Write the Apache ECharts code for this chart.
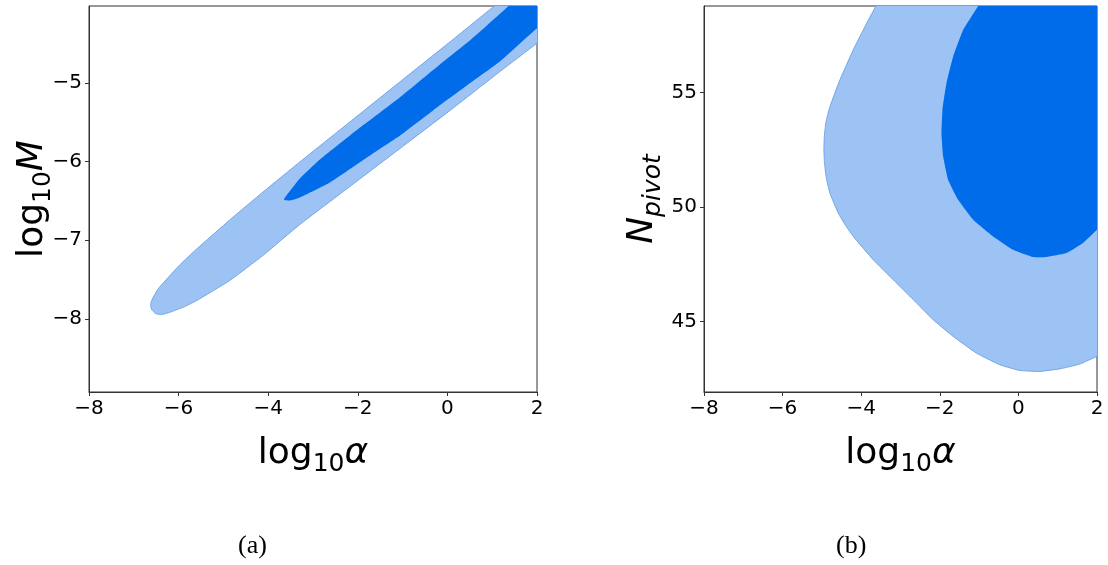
<!DOCTYPE html>
<html>
<head>
<meta charset="utf-8">
<script src="https://cdn.jsdelivr.net/npm/echarts@6/dist/echarts.min.js"></script>
<style>
html,body{margin:0;padding:0;background:#fff;}
#c{width:1108px;height:565px;}
</style>
</head>
<body>
<div id="c"></div>
<script>
// ---------- data ----------
// x axis ticks (both panels)
const xTicks = [-8, -6, -4, -2, 0, 2];
// panel (a): log10 M vs log10 alpha
const yTicksA = [-8, -7, -6, -5];
const yRangeA = [-8.93, -4.02];
// 2-sigma (outer) contour, panel (a)
const outerA = [
  [-6.625, -7.830], [-6.602, -7.767], [-6.535, -7.691], [-6.468, -7.627], [-6.356, -7.551],
  [-5.976, -7.315], [-5.596, -7.110], [-4.858, -6.741], [-4.120, -6.388], [-3.293, -6.003],
  [-2.175, -5.494], [-1.057, -4.984], [0.061, -4.475], [1.040, -4.023], [1.50, -3.80],
  [2.5, -3.80], [2.5, -4.28], [2.0, -4.494], [1.179, -4.851], [0.061, -5.348],
  [-1.057, -5.832], [-2.175, -6.315], [-3.293, -6.799], [-4.120, -7.194], [-4.858, -7.512],
  [-5.596, -7.767], [-5.864, -7.844], [-6.155, -7.908], [-6.379, -7.946], [-6.513, -7.933],
  [-6.602, -7.882]
];
// 1-sigma (inner) contour, panel (a)
const innerA = [
  [-3.651, -6.481], [-3.561, -6.404], [-3.293, -6.213], [-2.846, -5.971], [-2.175, -5.666],
  [-1.057, -5.182], [-0.162, -4.762], [0.508, -4.456], [1.358, -4.023], [1.70, -3.80],
  [2.5, -3.80], [2.5, -4.10], [2.0, -4.303], [1.179, -4.723], [0.441, -5.029],
  [-0.319, -5.348], [-1.057, -5.666], [-1.795, -5.946], [-2.622, -6.264], [-3.293, -6.455],
  [-3.517, -6.494], [-3.620, -6.492]
];
// panel (b): N_pivot vs log10 alpha
const yTicksB = [45, 50, 55];
const yRangeB = [41.92, 58.79];
const outerB = [
  [-3.50, 59.3], [-3.627, 58.79], [-3.864, 58.03], [-4.203, 56.87], [-4.542, 55.56], [-4.796, 54.39],
  [-4.900, 53.70], [-4.940, 53.05], [-4.949, 52.50], [-4.935, 51.95], [-4.890, 51.30],
  [-4.796, 50.61], [-4.584, 49.74], [-4.380, 49.15], [-4.203, 48.72], [-3.694, 47.70],
  [-3.186, 46.83], [-2.677, 45.96], [-2.169, 45.08], [-1.660, 44.35], [-1.067, 43.62],
  [-0.474, 43.11], [0.035, 42.86], [0.543, 42.82], [1.052, 42.93], [1.560, 43.14],
  [2.0, 43.48], [2.5, 43.9], [2.5, 59.3]
];
const innerB = [
  [-0.90, 59.3], [-1.025, 58.79], [-1.406, 57.74], [-1.660, 56.58], [-1.830, 55.41], [-1.932, 54.25],
  [-1.957, 53.23], [-1.914, 52.21], [-1.787, 51.19], [-1.533, 50.32], [-1.152, 49.45],
  [-0.643, 48.72], [-0.135, 48.14], [0.374, 47.82], [0.713, 47.82], [1.222, 47.99],
  [1.645, 48.43], [2.0, 49.01], [2.5, 49.8], [2.5, 59.3]
];

// ---------- styles ----------
const LIGHT = '#9cc3f4';
const LIGHT_EDGE = '#6a9fe4';
const DARK = '#006cea';
const AXIS = '#333333';
const TICK_FONT = "'DejaVu Sans', sans-serif";
const MATH_FONT = "'DejaVu Sans', sans-serif";

function minus(v) { return String(v).replace('-', '\u2212'); }

function polySeries(xi, pts, fill, stroke, z) {
  return {
    type: 'custom', xAxisIndex: xi, yAxisIndex: xi, clip: true, z: z,
    silent: true,
    data: [pts[0]],
    renderItem: function (params, api) {
      return {
        type: 'polygon',
        shape: { points: pts.map(function (p) { return api.coord(p); }), smooth: 0.12 },
        style: { fill: fill, stroke: stroke, lineWidth: stroke ? 0.9 : 0 }
      };
    }
  };
}

const richMath = {
  r: { fontSize: 36, fontFamily: MATH_FONT, color: '#000', lineHeight: 36, verticalAlign: 'top' },
  s: { fontSize: 25, fontFamily: MATH_FONT, color: '#000', lineHeight: 25, verticalAlign: 'top', padding: [16, 0, 0, 0] },
  i: { fontSize: 36, fontFamily: MATH_FONT, fontStyle: 'italic', color: '#000', lineHeight: 36, verticalAlign: 'top' },
  si: { fontSize: 25, fontFamily: MATH_FONT, fontStyle: 'italic', color: '#000', lineHeight: 25, verticalAlign: 'top', padding: [16, 0, 0, 0] }
};

function xAxisDef(gi) {
  return {
    type: 'value', gridIndex: gi, min: xTicks[0], max: xTicks[xTicks.length - 1], interval: 2,
    name: '{r|log}{s|10}{i|α}', nameLocation: 'middle', nameGap: 44,
    nameTextStyle: { rich: richMath },
    axisLine: { show: true, onZero: false, lineStyle: { color: AXIS, width: 1 } },
    axisTick: { show: true, inside: false, length: 4, lineStyle: { color: AXIS } },
    axisLabel: { margin: 7, fontSize: 20, fontFamily: TICK_FONT, color: '#000', formatter: minus },
    splitLine: { show: false }
  };
}
function yAxisDef(gi, range, ticks, name, gap) {
  return {
    type: 'value', gridIndex: gi, min: range[0], max: range[1],
    name: name, nameLocation: 'middle', nameGap: gap, nameRotate: 90, nameMoveOverlap: false,
    nameTextStyle: { rich: richMath },
    axisLine: { show: true, onZero: false, lineStyle: { color: AXIS, width: 1 } },
    axisTick: { show: true, inside: false, length: 4, lineStyle: { color: AXIS }, customValues: ticks },
    axisLabel: { margin: 7, fontSize: 20, fontFamily: TICK_FONT, color: '#000', formatter: minus, customValues: ticks },
    splitLine: { show: false }
  };
}

const chart = echarts.init(document.getElementById('c'), null, { renderer: 'canvas' });
chart.setOption({
  animation: false,
  backgroundColor: '#fff',
  grid: [
    { left: 89, right: 571, top: 6, bottom: 173, show: true, borderColor: AXIS, borderWidth: 1, backgroundColor: 'transparent' },
    { left: 704, right: 11, top: 6, bottom: 173, show: true, borderColor: AXIS, borderWidth: 1, backgroundColor: 'transparent' }
  ],
  xAxis: [xAxisDef(0), xAxisDef(1)],
  yAxis: [
    yAxisDef(0, yRangeA, yTicksA, '{r|log}{s|10}{i|M}', 38),
    yAxisDef(1, yRangeB, yTicksB, '{i|N}{si|pivot}', 43)
  ],
  graphic: [
    { type: 'text', left: 238, top: 533, style: { text: '(a)', font: "26px 'Liberation Serif', serif", fill: '#000' } },
    { type: 'text', left: 836, top: 533, style: { text: '(b)', font: "26px 'Liberation Serif', serif", fill: '#000' } }
  ],
  series: [
    polySeries(0, outerA, LIGHT, LIGHT_EDGE, 2),
    polySeries(0, innerA, DARK, null, 3),
    polySeries(1, outerB, LIGHT, LIGHT_EDGE, 2),
    polySeries(1, innerB, DARK, null, 3)
  ]
});
</script>
</body>
</html>
